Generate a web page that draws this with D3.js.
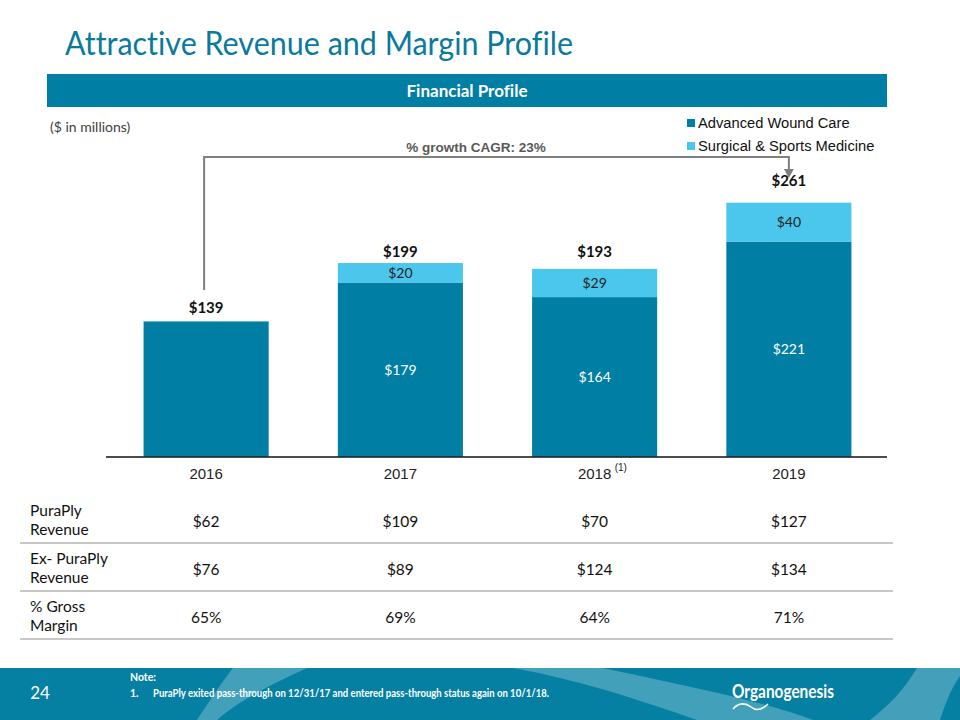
<!DOCTYPE html>
<html><head><meta charset="utf-8">
<script src="https://cdn.jsdelivr.net/npm/d3@7"></script>
<style>
html,body{margin:0;padding:0;background:#fff;}
svg{display:block;font-variant-ligatures:none;font-feature-settings:"liga" 0;}
</style></head>
<body>
<script>
// ---------- data ----------
const years = ["2016", "2017", "2018", "2019"];
const yearNotes = ["", "", "(1)", ""];
const advancedWoundCare = [139, 179, 164, 221];
const surgicalSportsMedicine = [0, 20, 29, 40];
const totals = [139, 199, 193, 261];
const seriesNames = ["Advanced Wound Care", "Surgical & Sports Medicine"];
const cagrLabel = "% growth CAGR: 23%";
const rowLabels = [["PuraPly", "Revenue"], ["Ex- PuraPly", "Revenue"], ["% Gross", "Margin"]];
const puraPlyRevenue = ["$62", "$109", "$70", "$127"];
const exPuraPlyRevenue = ["$76", "$89", "$124", "$134"];
const grossMargin = ["65%", "69%", "64%", "71%"];
const noteLines = ["Note:", "PuraPly exited pass-through on 12/31/17 and entered pass-through status again on 10/1/18."];

// ---------- style ----------
const W = 960, H = 720;
const DARK = "#007ea3", LIGHT = "#4bc6ec", TEAL = "#0a7a9c";
const calibri = "Lato, 'Open Sans', sans-serif";
const arial = "'Liberation Sans', Arial, sans-serif";
const totalLabelGap = [8, 6, 12, 17];

const svg = d3.select("body").append("svg").attr("width", W).attr("height", H);

// title
svg.append("text").attr("x", 65).attr("y", 55)
  .attr("font-family", calibri).attr("font-size", 32).attr("fill", TEAL)
  .attr("textLength", 508).attr("lengthAdjust", "spacingAndGlyphs")
  .text("Attractive Revenue and Margin Profile");

// banner
svg.append("rect").attr("x", 47).attr("y", 74).attr("width", 840).attr("height", 33).attr("fill", DARK);
svg.append("text").attr("x", 467).attr("y", 97).attr("text-anchor", "middle")
  .attr("font-family", calibri).attr("font-weight", "bold").attr("font-size", 17).attr("fill", "#fff")
  .text("Financial Profile");

svg.append("text").attr("x", 50).attr("y", 132)
  .attr("font-family", calibri).attr("font-size", 14).attr("fill", "#404040")
  .text("($ in millions)");

// scales
const x = d3.scaleBand().domain(years).range([109, 886]).paddingInner(0.356).paddingOuter(0.178);
const y = d3.scaleLinear().domain([0, 261]).range([456.7, 202.7]);

const rows = years.map((yr, i) => ({year: yr, awc: advancedWoundCare[i], ssm: surgicalSportsMedicine[i]}));
const stack = d3.stack().keys(["awc", "ssm"]);
const layers = stack(rows);
const colors = {awc: DARK, ssm: LIGHT};

const g = svg.append("g");
layers.forEach(layer => {
  g.selectAll(null).data(layer.filter(d => d[1] > d[0])).enter().append("rect")
    .attr("x", d => x(d.data.year)).attr("width", x.bandwidth())
    .attr("y", d => y(d[1])).attr("height", d => y(d[0]) - y(d[1]))
    .attr("fill", colors[layer.key]);
});

// inner labels
layers.forEach(layer => {
  g.selectAll(null).data(layer.filter(d => d[1] > d[0] && d.data.ssm > 0)).enter().append("text")
    .attr("x", d => x(d.data.year) + x.bandwidth() / 2)
    .attr("y", d => (y(d[0]) + y(d[1])) / 2 + 5)
    .attr("text-anchor", "middle").attr("font-family", calibri).attr("font-size", 14)
    .attr("fill", layer.key === "awc" ? "#fff" : "#222")
    .text(d => "$" + (d[1] - d[0]));
});

// totals
g.selectAll(null).data(totals).enter().append("text")
  .attr("x", (d, i) => x(years[i]) + x.bandwidth() / 2)
  .attr("y", (d, i) => y(d) - totalLabelGap[i])
  .attr("text-anchor", "middle").attr("font-family", calibri).attr("font-weight", "bold")
  .attr("font-size", 15).attr("fill", "#111")
  .text(d => "$" + d);

// axis
const xAxis = d3.axisBottom(x).tickSize(0).tickPadding(11);
const ax = svg.append("g").attr("transform", "translate(0,457)").call(xAxis);
ax.select(".domain").remove();
svg.append("line").attr("x1", 106).attr("x2", 887).attr("y1", 457).attr("y2", 457)
  .attr("stroke", "#111").attr("stroke-width", 1.5);
ax.selectAll(".tick text").attr("font-family", arial).attr("font-size", 15).attr("fill", "#222")
  .attr("dy", "0.71em");
ax.selectAll(".tick").each(function(d, i) {
  if (yearNotes[i]) {
    d3.select(this).append("text").attr("x", 20).attr("y", 10).attr("dy", "0.4em")
      .attr("font-family", arial).attr("font-size", 10).attr("fill", "#222").attr("text-anchor", "start")
      .text(yearNotes[i]);
  }
});

// CAGR bracket
const cx0 = x(years[0]) + x.bandwidth() / 2 - 2;
const cx1 = x(years[3]) + x.bandwidth() / 2;
svg.append("path")
  .attr("d", `M${cx0},290 V157 H${cx1} V170`)
  .attr("fill", "none").attr("stroke", "#7f7f7f").attr("stroke-width", 2);
svg.append("path")
  .attr("d", `M${cx1 - 5},169 L${cx1 + 5},169 L${cx1},178 Z`).attr("fill", "#7f7f7f");
svg.append("text").attr("x", 476).attr("y", 152).attr("text-anchor", "middle")
  .attr("font-family", arial).attr("font-weight", "bold").attr("font-size", 13.5).attr("fill", "#595959")
  .text(cagrLabel);

// legend
seriesNames.forEach((n, i) => {
  const ly = 128 + i * 23;
  svg.append("rect").attr("x", 687).attr("y", ly - 9).attr("width", 8).attr("height", 8)
    .attr("fill", i === 0 ? DARK : LIGHT);
  svg.append("text").attr("x", 698).attr("y", ly).attr("font-family", arial).attr("font-size", 14.7)
    .attr("fill", "#111").text(n);
});

// table
const tableValues = [puraPlyRevenue, exPuraPlyRevenue, grossMargin];
const rowTop = [497, 545, 593];
tableValues.forEach((vals, r) => {
  const cy = rowTop[r] + 24;
  rowLabels[r].forEach((t, k) => {
    svg.append("text").attr("x", 30).attr("y", cy - 5 + k * 19)
      .attr("font-family", calibri).attr("font-size", 15.5).attr("fill", "#111").text(t);
  });
  vals.forEach((v, i) => {
    svg.append("text").attr("x", x(years[i]) + x.bandwidth() / 2).attr("y", cy + 6)
      .attr("text-anchor", "middle").attr("font-family", calibri).attr("font-size", 15.5)
      .attr("fill", "#111").text(v);
  });
  svg.append("line").attr("x1", 20).attr("x2", 893)
    .attr("y1", rowTop[r] + 46).attr("y2", rowTop[r] + 46)
    .attr("stroke", "#c8c8c8").attr("stroke-width", 2);
});

// footer
svg.append("rect").attr("x", 0).attr("y", 668).attr("width", W).attr("height", 52).attr("fill", "#0580a3");
const foot = svg.append("g").attr("fill", "#ffffff").attr("opacity", 0.25);
foot.append("path").attr("d", "M197,720 C210,700 222,682 233,668 L307,668 C270,685 240,700 217,720 Z");
foot.append("path").attr("d", "M513,668 L603,668 C680,685 760,700 813,720 L697,720 C640,700 580,680 513,668 Z");
foot.append("path").attr("d", "M917,668 L960,668 L960,676 C950,690 945,705 940,720 L870,720 C890,705 905,688 917,668 Z");
svg.append("text").attr("x", 40).attr("y", 699).attr("text-anchor", "middle").attr("font-family", calibri).attr("font-size", 17)
  .attr("fill", "#fff").text("24");
svg.append("text").attr("x", 130).attr("y", 681).attr("font-family", calibri).attr("font-weight", "bold")
  .attr("font-size", 10.5).attr("fill", "#fff").text(noteLines[0]);
svg.append("text").attr("x", 130).attr("y", 697).attr("font-family", calibri).attr("font-weight", "bold")
  .attr("font-size", 10.5).attr("fill", "#fff").text("1.");
svg.append("text").attr("x", 153).attr("y", 697).attr("font-family", calibri).attr("font-weight", "bold")
  .attr("font-size", 10.5).attr("fill", "#fff").attr("textLength", 396).attr("lengthAdjust", "spacingAndGlyphs")
  .text(noteLines[1]);
svg.append("text").attr("x", 732).attr("y", 698).attr("font-family", calibri).attr("font-weight", "bold").attr("font-size", 19)
  .attr("fill", "#fff").attr("textLength", 102).attr("lengthAdjust", "spacingAndGlyphs").text("Organogenesis");
svg.append("path").attr("d", "M733,709 C739,702 746,703 751,707 C756,711 762,710 768,704")
  .attr("fill", "none").attr("stroke", "#fff").attr("stroke-width", 1.6);
</script>
</body></html>
